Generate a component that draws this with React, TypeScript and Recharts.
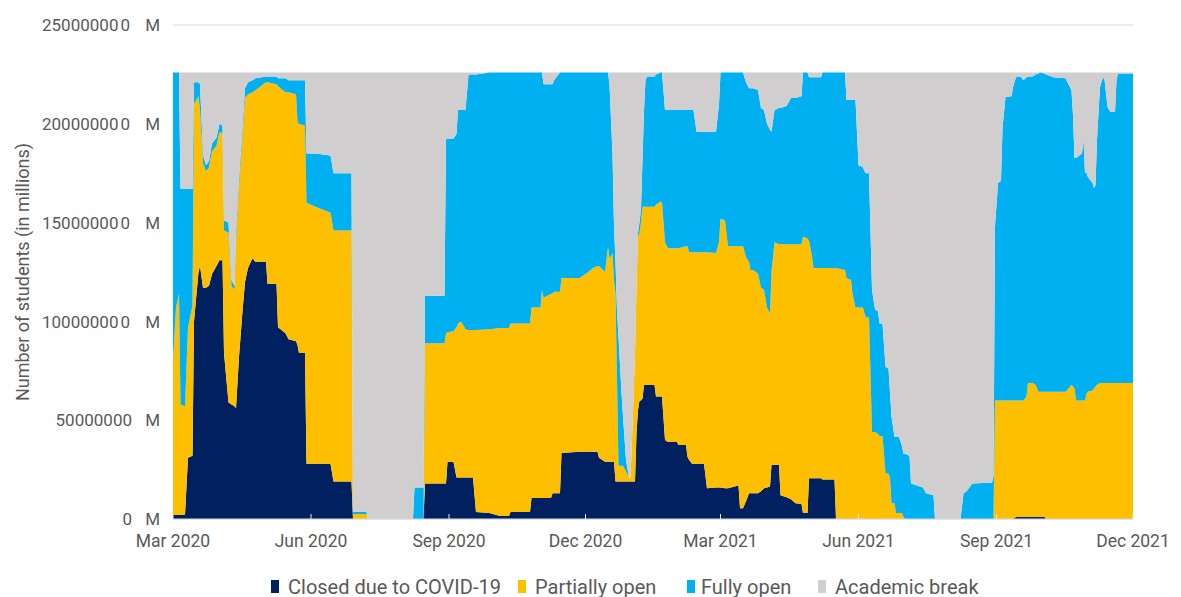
import React from 'react';
import { AreaChart, Area, XAxis, YAxis, CartesianGrid } from 'recharts';

// Dates of the readings (daily data, change points)
const dates: string[] = [
  '2020-03-01','2020-03-03','2020-03-05','2020-03-06','2020-03-09','2020-03-11','2020-03-14','2020-03-15','2020-03-18','2020-03-19','2020-03-21','2020-03-23','2020-03-25','2020-03-27','2020-03-30',
  '2020-04-01','2020-04-03','2020-04-04','2020-04-07','2020-04-09','2020-04-11','2020-04-12','2020-04-14','2020-04-16','2020-04-18','2020-04-20','2020-04-23','2020-04-25',
  '2020-05-02','2020-05-03','2020-05-09','2020-05-10','2020-05-15','2020-05-17','2020-05-22','2020-05-23','2020-05-24','2020-05-28','2020-05-29',
  '2020-06-04','2020-06-14','2020-06-16','2020-06-28','2020-06-29',
  '2020-07-08','2020-07-09','2020-08-08','2020-08-09','2020-08-15','2020-08-16','2020-08-29','2020-08-30','2020-08-31',
  '2020-09-04','2020-09-06','2020-09-07','2020-09-09','2020-09-12','2020-09-14','2020-09-17','2020-09-19','2020-09-28',
  '2020-10-05','2020-10-11','2020-10-12','2020-10-25','2020-10-26',
  '2020-11-01','2020-11-02','2020-11-03','2020-11-08','2020-11-09','2020-11-10','2020-11-14','2020-11-15','2020-11-27',
  '2020-12-02','2020-12-06','2020-12-09','2020-12-10','2020-12-14','2020-12-16','2020-12-17','2020-12-18','2020-12-19','2020-12-20','2020-12-21','2020-12-22','2020-12-23','2020-12-25','2020-12-26','2020-12-28','2020-12-30','2020-12-31',
  '2021-01-01','2021-01-03','2021-01-04','2021-01-05','2021-01-06','2021-01-07','2021-01-08','2021-01-09','2021-01-10','2021-01-11','2021-01-16','2021-01-17','2021-01-20','2021-01-21','2021-01-23','2021-01-25','2021-01-31',
  '2021-02-01','2021-02-06','2021-02-07','2021-02-08','2021-02-10','2021-02-11','2021-02-13','2021-02-18','2021-02-20','2021-02-26','2021-02-28',
  '2021-03-01','2021-03-04','2021-03-06','2021-03-13','2021-03-14','2021-03-16','2021-03-18','2021-03-20','2021-03-21','2021-03-23','2021-03-26','2021-03-28','2021-03-30',
  '2021-04-01','2021-04-03','2021-04-04','2021-04-06','2021-04-09','2021-04-10','2021-04-14','2021-04-17','2021-04-20','2021-04-24','2021-04-25','2021-04-28','2021-04-29',
  '2021-05-01','2021-05-02','2021-05-07','2021-05-08','2021-05-16','2021-05-17','2021-05-23','2021-05-24','2021-05-27','2021-05-28','2021-05-30',
  '2021-06-01','2021-06-04','2021-06-05','2021-06-06','2021-06-08','2021-06-10','2021-06-12','2021-06-14','2021-06-15','2021-06-17','2021-06-19','2021-06-21','2021-06-22','2021-06-23','2021-06-25','2021-06-26','2021-06-28','2021-06-30',
  '2021-07-01','2021-07-02','2021-07-05','2021-07-06','2021-07-14','2021-07-16','2021-07-21','2021-07-22',
  '2021-08-08','2021-08-10','2021-08-12','2021-08-16','2021-08-29','2021-08-30','2021-08-31',
  '2021-09-02','2021-09-04','2021-09-05','2021-09-07','2021-09-11','2021-09-12','2021-09-14','2021-09-17','2021-09-19','2021-09-21','2021-09-22','2021-09-25','2021-09-27','2021-09-29','2021-09-30',
  '2021-10-03','2021-10-04','2021-10-09','2021-10-17','2021-10-19','2021-10-21','2021-10-22','2021-10-23','2021-10-24','2021-10-28','2021-10-29','2021-10-30','2021-10-31',
  '2021-11-01','2021-11-04','2021-11-05','2021-11-06','2021-11-07','2021-11-09','2021-11-11','2021-11-12','2021-11-14','2021-11-16','2021-11-19','2021-11-20','2021-11-21',
  '2021-12-01',
];

// Number of students, in millions
const closed: number[] = [
  2,2,2,2,2,31,32,100,125,128,117,117,118,124,128,
  131,131,84,59,58,57,56,82,102,120,127,132,130,
  130,119,119,97,94,91,90,88,84,84,28,
  28,28,19,19,0,
  0,0,0,0,0,18,18,18,29,
  29,21,21,21,21,21,21,3.5,3,
  1.5,1.5,3.5,3.5,10.6,
  10.6,10.6,10.6,10.6,13,13,13,33.4,34,
  34,34,34,31,29,29,29,29,29,29,19,19,19,19,19,19,19,19,
  19,19,43.5,55,60,60,61,67.8,67.8,67.8,67.8,62,62,62,40,39,39,
  37.5,37.5,31.5,30,28,28,28,28,15.6,16,16,
  16,15.6,15.6,17,5.5,5.5,9,13,13,13,13,14,15.6,
  16,16.5,27.5,27.5,27.5,12,11,10,8,7.6,3,3,20.6,
  20.6,20.6,20.6,20,20,0,0,0,0,0,0,
  0,0,0,0,0,0,0,0,0,0,0,0,0,0,0,0,0,0,
  0,0,0,0,0,0,0,0,
  0,0,0,0,0,0,0,
  0,0,0,0,0,0,1,1,1,1,1,1,1,1,1,
  1,0,0,0,0,0,0,0,0,0,0,0,0,
  0,0,0,0,0,0,0,0,0,0,0,0,0,
  0,
];

const partiallyOpen: number[] = [
  78,105,112,56,55,66,76,110,89,79,63,59,60,62,61,
  65,64,62,86,60,59,85,86,88,93,88,84,87,
  91,102,101,122,122,125,125,113,116,115,132,
  130,127,127,127,2.5,
  2.5,0,0,0,0,71,71,76,65.5,
  66,76,78,79,75,74.6,74.6,92.1,93,
  95.1,95.1,95.5,95.5,96.4,
  96.4,105.4,101.4,103.4,101,102,102,88.6,88,
  90.5,93,94,97,96,108.6,103,104,105.6,92,95,51,8,8,8,5,2,2,
  21,65,74.1,88,85,90,97,90.2,90.2,90.2,90.2,97,98.7,98,100,98,98,
  99.5,100.5,106.5,105,107,107,107,107,119.4,118.6,124,
  136,135.4,122.4,121,132.5,132.5,123.5,117,113,113,111,103,100.4,
  91,87.5,97.5,112.5,111.5,127,128,129,131,131.4,140,139,120.4,
  112.4,106.4,106.4,107,107,127,126,122,121,114,107,
  107,107,104,102,102,44,44,43,42,42,23,23,21,8,8,3,3,3,
  1,0,0,0,0,0,0,0,
  0,0,0,0,0,0,60,
  60,60,60,60,60,60,59,59,59,61,67.8,67.8,67,63.4,63.4,
  63.4,64.4,64.4,64.4,66,68,67,66,60,60,60,60,63.5,
  64.5,65,66,67,68,68.8,68.8,68.8,68.8,68.8,68.8,68.8,68.8,
  68.8,
];

const fullyOpen: number[] = [
  146,119,112,109,110,70,59,11,7,13,4,3,3,4,4,
  4,4,5,5,3,2,4,4,4,5,6,6,6,
  3,3,4,4,7,6,7,21,22,23,25,
  27,29,29,29,1.2,
  1.2,0,0,16,16,24,24,98,98,
  97.5,98,108,107,111,129.4,129.4,129.4,130,
  129.4,129.4,127,127,119,
  119,110,108,106,106,107,111,104,104,
  101.5,99,98,98,101,88.4,88,69,50.4,27,16,35,65,37,25,6,0,0,
  0,0,0,2,5,7,24,49,64,66,66,66,65.3,66,67,70,70,
  70,69,69,72,72,72,61,61,61,61.4,70,
  74,75,88,88,88,88,88.5,88,92,92,93,91,91,
  93,93,71,67,69,69,70,74,74,75,83,84,82.5,
  90.5,96.5,96.5,99,99,99,100,90,91,98,105,
  72,71,72,73,73,72,62,62,57,57,54,53,43,44,33.5,38.5,38.5,34,
  32,33,32,18,16,13,12,0,
  0,13,14,18,18.5,21.5,88,
  110,111,138,153.6,154,158.6,163.5,164,162,161.5,155.2,155.2,157,161.1,161.6,
  161.1,160.6,159.1,158.6,154,149,137.5,116.7,122.7,125,132,115,112,
  108.5,105,101.5,102,124,149.8,154.7,153.7,139.7,137.2,137.2,153.2,156.7,
  156.7,
];

const academicBreak: number[] = [
  0,0,0,59,59,59,59,5,5,6,42,47,45,36,33,
  26,27,75,76,105,108,81,54,32,8,5,4,3,
  2,2,2,3,3,4,4,4,4,4,41,
  41,42,51,51,222.3,
  222.3,226,226,210,210,113,113,34,33.5,
  33.5,31,19,19,19,1,1,1,0,
  0,0,0,0,0,
  0,0,6,6,6,4,0,0,0,
  0,0,0,0,0,0,6,24,41,78,96,121,134,162,174,196,205,205,
  186,142,108.4,81,76,69,44,19,4,2,2,1,0,0,19,19,19,
  19,19,19,19,19,19,30,30,30,30,16,
  0,0,0,0,0,0,5,8,8,8,9,18,19,
  26,29,30,19,18,18,17,13,13,12,0,0,2.5,
  2.5,2.5,2.5,0,0,0,0,14,14,14,14,
  47,48,50,51,51,110,120,121,127,127,149,150,162,174,184.5,184.5,184.5,189,
  193,193,194,208,210,213,214,226,
  226,213,212,208,207.5,204.5,78,
  56,55,28,12.4,12,7.4,2.5,2,4,2.5,2,2,1,0.5,0,
  0.5,1,2.5,3,6,9,21.5,43.3,43.3,41,34,51,50.5,
  53,56,58.5,57,34,7.4,2.5,3.5,17.5,20,20,4,0.5,
  0.5,
];

const xTickDates = ['2020-03-01','2020-06-01','2020-09-01','2020-12-01','2021-03-01','2021-06-01','2021-09-01','2021-12-01'];
const xTickLabels = ['Mar 2020','Jun 2020','Sep 2020','Dec 2020','Mar 2021','Jun 2021','Sep 2021','Dec 2021'];
const yTicks = [0, 50000000, 100000000, 150000000, 200000000, 250000000];
const yTickLabels = ['0', '50000000', '100000000', '150000000', '200000000', '250000000'];

const seriesNames = ['Closed due to COVID-19', 'Partially open', 'Fully open', 'Academic break'];
const seriesKeys = ['closed', 'partial', 'full', 'brk'];
const seriesColors = ['#00205F', '#FDBF00', '#00B0F0', '#D0CECF'];

const toTs = (d: string) => Date.UTC(+d.slice(0, 4), +d.slice(5, 7) - 1, +d.slice(8, 10));
const MILLION = 1e6;

const data = dates.map((d, i) => ({
  t: toTs(d),
  closed: closed[i] * MILLION,
  partial: partiallyOpen[i] * MILLION,
  full: fullyOpen[i] * MILLION,
  brk: academicBreak[i] * MILLION,
}));

const xTicks = xTickDates.map(toTs);
const TEXT = '#595959';

const YTick = (props: any) => {
  const { x, y, payload } = props;
  const idx = yTicks.indexOf(payload.value);
  const label = yTickLabels[idx] || '';
  const long = label.length > 8;
  return (
    <g>
      <text x={x - 28 - (long ? 2 : 0)} y={y} dy="0.36em" textAnchor="end" fill={TEXT} fontSize={17}>
        {long ? label.slice(0, -1) : label}
        {long ? <tspan dx={2}>{label.slice(-1)}</tspan> : null}
      </text>
      <text x={x} y={y} dy="0.36em" textAnchor="end" fill={TEXT} fontSize={17}>
        M
      </text>
    </g>
  );
};

// legend item positions (px from the chart's left edge)
const legendSquareX = [263, 510, 679, 810];
const legendTextX = [280, 527, 693, 827];

export default function App() {
  return (
    <div style={{ position: 'relative', width: 1165, height: 589, fontFamily: 'Roboto, sans-serif' }}>
      <AreaChart
        width={1165}
        height={555}
        data={data}
        margin={{ top: 17, right: 40, left: 5, bottom: 14 }}
      >
        <CartesianGrid horizontal vertical={false} stroke="#D9D9D9" />
        {seriesKeys.map((k, i) => (
          <Area
            key={k}
            type="linear"
            dataKey={k}
            name={seriesNames[i]}
            stackId="1"
            stroke="none"
            fill={seriesColors[i]}
            fillOpacity={1}
            isAnimationActive={false}
            dot={false}
            activeDot={false}
          />
        ))}
        <XAxis
          dataKey="t"
          type="number"
          domain={[xTicks[0], xTicks[xTicks.length - 1]]}
          ticks={xTicks}
          tickFormatter={(v: number) => xTickLabels[xTicks.indexOf(v)]}
          axisLine={{ stroke: '#D9D9D9' }}
          tickLine={{ stroke: '#E6E6E6' }}
          tickSize={-5}
          tickMargin={21}
          tick={{ fill: TEXT, fontSize: 17.5 }}
          height={30}
          interval={0}
        />
        <YAxis
          type="number"
          domain={[0, 250000000]}
          ticks={yTicks}
          width={160}
          axisLine={false}
          tickLine={false}
          tickMargin={7}
          tick={<YTick />}
          interval={0}
          label={{
            value: 'Number of students (in millions)',
            angle: -90,
            position: 'insideLeft',
            offset: 10,
            style: { textAnchor: 'middle', fill: TEXT, fontSize: 18 },
          }}
        />
      </AreaChart>
      {seriesNames.map((n, i) => (
        <React.Fragment key={n}>
          <div
            style={{
              position: 'absolute',
              left: legendSquareX[i],
              top: 572,
              width: 8,
              height: 13,
              background: seriesColors[i],
            }}
          />
          <div
            style={{
              position: 'absolute',
              left: legendTextX[i],
              top: 569,
              fontSize: 20,
              lineHeight: '20px',
              color: TEXT,
              whiteSpace: 'nowrap',
            }}
          >
            {n}
          </div>
        </React.Fragment>
      ))}
    </div>
  );
}
